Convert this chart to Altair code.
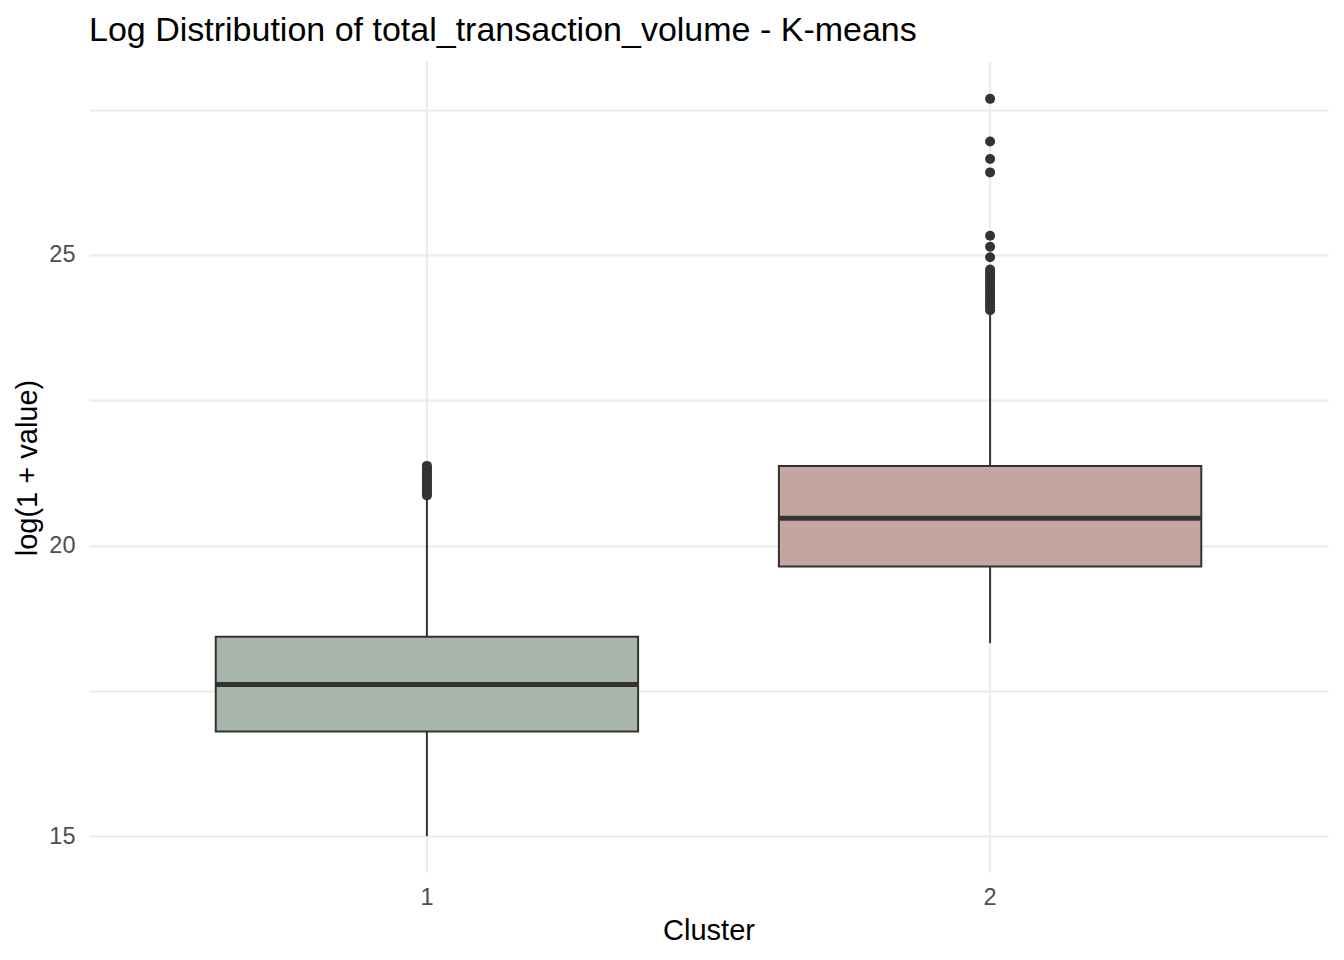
import altair as alt
import pandas as pd

clusters = ["1", "2"]
whisker_low = [15.0, 18.32]
q1 = [16.80, 19.64]
median = [17.61, 20.47]
q3 = [18.43, 21.37]
whisker_high = [20.83, 24.02]
fill_colors = ["#A7B5AA", "#C4A6A0"]

out_c1 = [20.86, 20.90, 20.94, 20.98, 21.02, 21.06, 21.10, 21.14, 21.18, 21.22, 21.26, 21.30, 21.34, 21.37]
out_c2 = [24.05, 24.10, 24.15, 24.20, 24.25, 24.30, 24.35, 24.40, 24.45, 24.50, 24.55, 24.60,
          24.65, 24.70, 24.75, 24.96, 25.14, 25.33, 26.42, 26.65, 26.95, 27.685]

stats = pd.DataFrame({
    "cluster": clusters, "lo": whisker_low, "q1": q1, "med": median,
    "q3": q3, "hi": whisker_high,
})
outliers = pd.DataFrame({
    "cluster": ["1"] * len(out_c1) + ["2"] * len(out_c2),
    "value": out_c1 + out_c2,
})

FONT = "Liberation Sans"
xscale = alt.Scale(domain=clusters, paddingInner=0.25, paddingOuter=0.225)
yscale = alt.Scale(domain=[14.366, 28.319], nice=False, zero=False)

x = alt.X("cluster:N", scale=xscale, title="Cluster",
          axis=alt.Axis(labelAngle=0, labelAlign="center", ticks=False, domain=False, grid=False,
                        labelFontSize=23.5, labelColor="#4D4D4D", labelFont=FONT,
                        labelPadding=24, titleFontSize=29, titleFont=FONT,
                        titleFontWeight="normal", titleColor="#000000", titlePadding=8))

grid_v = alt.Chart(stats).mark_rule(color="#EBEBEB", strokeWidth=2).encode(
    x=alt.X("cluster:N", scale=xscale)
)

yaxis_layer = alt.Chart(stats).mark_rule(opacity=0).encode(
    x=x,
    y=alt.Y("lo:Q", scale=yscale, title="log(1 + value)",
            axis=alt.Axis(values=[15, 17.5, 20, 22.5, 25, 27.5],
                          labelExpr="datum.value % 5 == 0 ? format(datum.value, 'd') : ''",
                          ticks=False, domain=False, grid=True, gridColor="#EBEBEB",
                          gridWidth=2, labelFontSize=23.5, labelColor="#4D4D4D",
                          labelFont=FONT, labelPadding=14, titleFontSize=29,
                          titleFont=FONT, titleFontWeight="normal",
                          titleColor="#000000", titlePadding=6)),
)

whisk_lo = alt.Chart(stats).mark_rule(color="#333333", strokeWidth=2).encode(
    x=alt.X("cluster:N", scale=xscale), y=alt.Y("lo:Q", scale=yscale), y2="q1:Q")
whisk_hi = alt.Chart(stats).mark_rule(color="#333333", strokeWidth=2).encode(
    x=alt.X("cluster:N", scale=xscale), y=alt.Y("q3:Q", scale=yscale), y2="hi:Q")

box = alt.Chart(stats).mark_bar(stroke="#333333", strokeWidth=2, opacity=1).encode(
    x=alt.X("cluster:N", scale=xscale),
    y=alt.Y("q1:Q", scale=yscale), y2="q3:Q",
    fill=alt.Fill("cluster:N", scale=alt.Scale(domain=clusters, range=fill_colors), legend=None),
)

med = alt.Chart(stats).mark_tick(color="#333333", thickness=5, size=423, orient="horizontal",
                                 opacity=1).encode(
    x=alt.X("cluster:N", scale=xscale), y=alt.Y("med:Q", scale=yscale))

pts = alt.Chart(outliers).mark_circle(color="#333333", size=100, opacity=1).encode(
    x=alt.X("cluster:N", scale=xscale), y=alt.Y("value:Q", scale=yscale))

chart = alt.layer(grid_v, yaxis_layer, whisk_lo, whisk_hi, box, med, pts).properties(
    width=1239, height=811,
    background="white",
    title=alt.Title("Log Distribution of total_transaction_volume - K-means",
                    anchor="start", frame="group", fontSize=34, font=FONT,
                    fontWeight="normal", color="#000000", offset=13),
    autosize=alt.AutoSizeParams(type="none"),
    padding={"left": 81, "top": 54, "right": 8, "bottom": 79},
).configure_view(stroke=None)

chart.save("out.html", embed_options={"renderer": "svg", "actions": False})
